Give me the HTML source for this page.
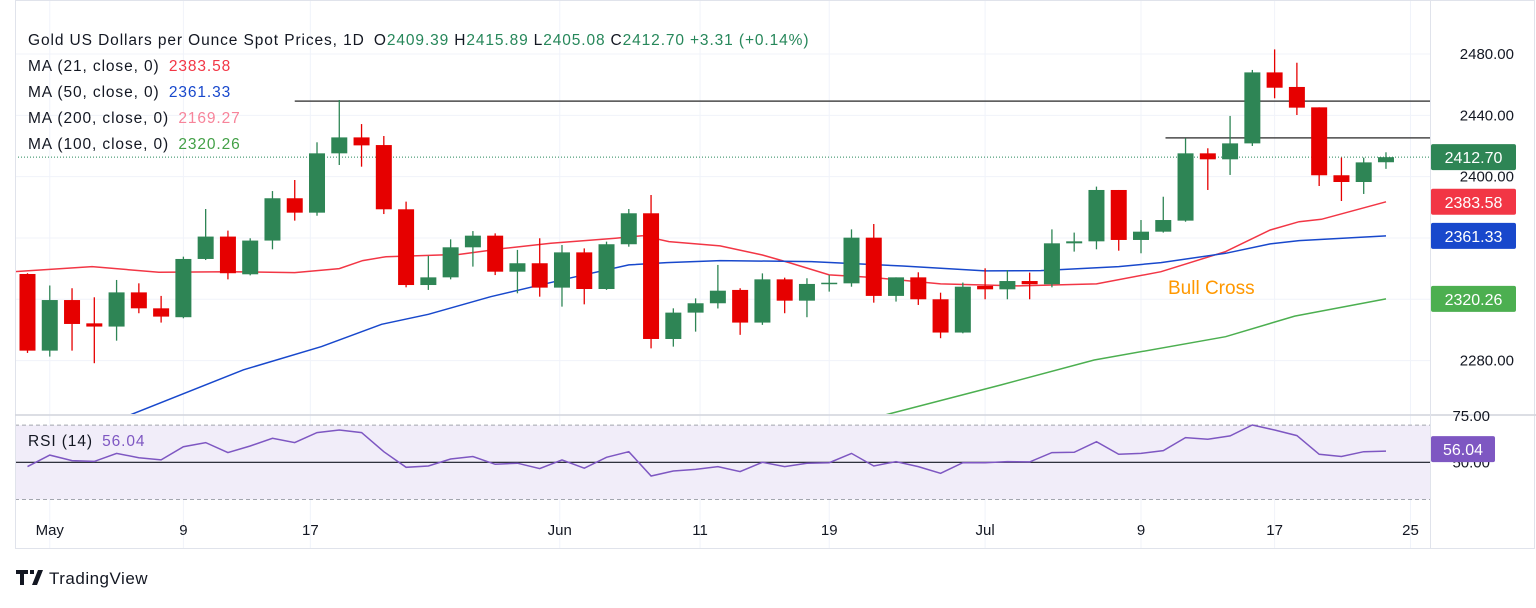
<!DOCTYPE html>
<html><head><meta charset="utf-8">
<style>
html,body{margin:0;padding:0;background:#fff;}
body{width:1536px;height:603px;overflow:hidden;font-family:"Liberation Sans",sans-serif;}
svg text{font-family:"Liberation Sans",sans-serif;}
.lg{letter-spacing:0.9px;}
</style></head>
<body>
<svg id="chart" width="1536" height="603" viewBox="0 0 1536 603" xmlns="http://www.w3.org/2000/svg">
  <defs>
    <clipPath id="mainClip"><rect x="15" y="0" width="1415" height="414"/></clipPath>
    <clipPath id="rsiClip"><rect x="15" y="416" width="1415" height="130"/></clipPath>
  </defs>
  <g id="grid"></g>
  <g id="rsiBg"></g>
  <g id="main" clip-path="url(#mainClip)"></g>
  <g id="rsi" clip-path="url(#rsiClip)"></g>
  <g id="axes"></g>
  <g id="legend">
    <text class="lg" x="28" y="45" font-size="15.5" fill="#131722">Gold US Dollars per Ounce Spot Prices, 1D <tspan dx="4">O</tspan><tspan fill="#26875a">2409.39</tspan><tspan dx="5">H</tspan><tspan fill="#26875a">2415.89</tspan><tspan dx="5">L</tspan><tspan fill="#26875a">2405.08</tspan><tspan dx="5">C</tspan><tspan fill="#26875a">2412.70</tspan><tspan dx="5" fill="#26875a">+3.31 (+0.14%)</tspan></text>
    <text class="lg" x="28" y="71" font-size="15.5" fill="#131722">MA (21, close, 0) <tspan dx="4" fill="#f23645">2383.58</tspan></text>
    <text class="lg" x="28" y="97" font-size="15.5" fill="#131722">MA (50, close, 0) <tspan dx="4" fill="#1848cc">2361.33</tspan></text>
    <text class="lg" x="28" y="123" font-size="15.5" fill="#131722">MA (200, close, 0) <tspan dx="4" fill="#f7849a">2169.27</tspan></text>
    <text class="lg" x="28" y="149" font-size="15.5" fill="#131722">MA (100, close, 0) <tspan dx="4" fill="#43a047">2320.26</tspan></text>
    <text class="lg" x="28" y="446" font-size="15.5" fill="#131722">RSI (14) <tspan dx="4" fill="#7e57c2">56.04</tspan></text>
  </g>
  <text x="1168" y="294" font-size="19" fill="#ff9800">Bull Cross</text>
  <g>
    <path d="M16 570 h12 v4 h-4 v11 h-4 v-11 h-4z M30 570 h4 v4 h-4z M38 570 h5 l-6 15 h-5z" fill="#131722"/>
    <text x="49" y="584" font-size="17" fill="#131722" style="letter-spacing:0.5px">TradingView</text>
  </g>
</svg>
<script>
// ---- data ----
const opens  = [2336.5,2286.5,2319.5,2304.3,2302.2,2324.5,2314.1,2308.3,2346.3,2360.9,2336.3,2358.3,2385.9,2376.5,2415.2,2425.6,2420.6,2378.7,2329.3,2334.3,2353.9,2361.5,2338,2343.5,2327.6,2350.6,2326.7,2355.9,2376.1,2294.1,2311.3,2317.4,2326.1,2304.8,2333,2319.1,2330.4,2330.4,2360.2,2322.2,2334.3,2320,2298.3,2328.7,2326.5,2331.9,2329.8,2356.5,2357.8,2391.3,2358.7,2364.1,2371.3,2415.2,2411.3,2421.7,2468,2458.5,2445.2,2400.9,2396.5,2409.39];
const highs  = [2337,2329,2327.2,2321.3,2332.6,2330.4,2322.2,2347.8,2378.9,2364.8,2359.8,2390.6,2397.8,2422.4,2450,2434.3,2426.5,2383.7,2348.3,2359.1,2364.5,2363,2352.2,2359.8,2355.4,2353.2,2357.6,2378.9,2388,2314.1,2320.6,2342.4,2327.2,2336.9,2334.1,2333.7,2335.8,2365.6,2369.1,2334.3,2337.6,2324.3,2330.9,2340.2,2339.1,2337.4,2365.6,2363.5,2393.5,2391.3,2371.7,2386.9,2425,2418.5,2439.6,2469.6,2483,2474.3,2445.2,2412.4,2412.4,2415.89];
const lows   = [2285,2282.6,2286.5,2278.3,2293,2310.9,2304.8,2307.6,2345.6,2333,2335.6,2352.6,2371.3,2374.5,2407.6,2406.5,2375.6,2327.8,2326.1,2333,2341.3,2335.8,2323.9,2321.7,2315.2,2316.7,2326.1,2354.3,2288,2289.1,2298.9,2314,2296.8,2303.3,2310.9,2308.3,2325,2328.2,2317.8,2318.5,2316.3,2294.6,2297.8,2320,2320,2320,2327.8,2351.1,2352.6,2351.7,2350,2363.5,2370.6,2391.3,2401.1,2420,2451.1,2440.2,2393.9,2384.1,2388.7,2405.08];
const closes = [2286.5,2319.5,2303.9,2302.2,2324.5,2314.1,2308.7,2346.3,2360.9,2337,2358.3,2385.9,2376.5,2415.2,2425.6,2420.4,2378.7,2329.3,2334.3,2353.9,2361.5,2338,2343.5,2327.6,2350.6,2326.7,2355.9,2376.1,2294.1,2311.3,2317.4,2325.6,2304.8,2333,2319.1,2330,2330.8,2360.2,2322.2,2334.3,2320,2298.3,2328.2,2326.5,2331.9,2329.8,2356.5,2357.8,2391.3,2358.7,2364.1,2371.7,2415.2,2411.3,2421.7,2468,2458,2445,2400.9,2396.5,2409.3,2412.70];
const rsiVals = [47.7,53.9,50.9,50.5,54.8,52.5,51.3,58.4,60.6,55.2,58.8,62.9,60.6,66,67.4,66,55.7,47.3,48,51.8,53.1,48.9,49.5,46.6,51.3,46.8,52.7,55.7,42.6,45.3,46.2,47.7,45,50,47.7,49.5,49.8,54.8,48,50.4,47.7,44.1,49.8,49.8,50.4,50.2,55.2,55.4,61.1,54.3,54.8,56.3,63.3,62.4,64.2,70.1,67.4,64.4,54.3,53.1,55.7,56.04];
const ma21Idx = [-0.6,2.9,5.9,9.1,12,14,15.05,16.1,19.4,21.4,23.5,26.4,27.6,28.8,31.1,33,34.2,36,37.9,41,44.5,48,50.9,53.8,55.8,57.1,58.1,61];
const ma21Val = [2338,2341.3,2337.6,2338,2337.4,2340,2345.2,2347.8,2349.3,2353.2,2356.5,2359.8,2361.5,2357.6,2354.8,2348.9,2343.9,2335.9,2334.3,2330,2328.7,2330,2338,2351.1,2365.2,2370.6,2372.2,2383.58];
const ma50Idx = [4.6,9.7,13.2,15.9,18,20.8,24.3,27,28.7,31.1,35.2,39.3,43,45.5,49,50.9,53.8,55.8,57.1,61];
const ma50Val = [2244.5,2274,2289.1,2303.7,2310.2,2321.7,2333.7,2342.4,2343.9,2345.2,2344.6,2341.7,2338.5,2338.7,2341.3,2343.9,2350,2356.1,2358.3,2361.33];
const ma100Idx = [38.5,43.7,47.9,53.8,56.9,61];
const ma100Val = [2244.5,2264.1,2280.4,2295.6,2309,2320.26];
const dateLabels = ["May","9","17","Jun","11","19","Jul","9","17","25"];
const dateIdx = [1,7,12.7,23.9,30.2,36,43,50,56,62.1];
const priceTicks = [2480,2440,2400,2280];
const rsiTicks = [75,50];
const resistLevels = [2449.3,2425.3];
const resistStartIdx = [12,51.1];

// ---- scales ----
const X0 = 27.5, DX = 22.27;
const xs = i => X0 + i*DX;
const yp = p => 54 + (2480 - p)*1.533;
const yr = r => 462.3 - (r - 50)*1.857;
const NS = "http://www.w3.org/2000/svg";
function mk(tag, attrs, parent){ const e=document.createElementNS(NS,tag); for(const k in attrs) e.setAttribute(k,attrs[k]); parent.appendChild(e); return e; }
const grid=document.getElementById('grid'), main=document.getElementById('main'), rsi=document.getElementById('rsi'), axes=document.getElementById('axes'), rsiBg=document.getElementById('rsiBg');

let fr = mk('rect',{x:15.5,y:0.5,width:1519,height:548,fill:'none',stroke:'#e0e3eb'},axes);


let sep = mk('line',{x1:15,x2:1536,y1:415,y2:415,stroke:'#d1d4dc','stroke-width':1.5},axes);


let vsep = mk('line',{x1:1430.5,x2:1430.5,y1:0,y2:548,stroke:'#e0e3eb'},axes);



priceTicks.concat([2360,2320]).forEach(p=>{
  const g=mk('line',{x1:15,x2:1430,y1:yp(p),y2:yp(p),stroke:'#f0f3fa'},grid);
  
  
});
dateIdx.forEach(i=>{
  const g=mk('line',{x1:xs(i),x2:xs(i),y1:0,y2:548,stroke:'#f0f3fa'},grid);
  
  
});

let band=mk('rect',{x:15,y:yr(70),width:1415,height:yr(30)-yr(70),fill:'#f1edf9'},rsiBg);


[70,30].forEach(v=>{
  const l=mk('line',{x1:15,x2:1430,y1:yr(v),y2:yr(v),stroke:'#a3a6af','stroke-dasharray':'4 3'},rsiBg);
  
  
});
let mid=mk('line',{x1:15,x2:1430,y1:yr(50),y2:yr(50),stroke:'#131722','stroke-width':1.2},rsiBg);



resistLevels.forEach((p,k)=>{
  const l=mk('line',{x1:xs(resistStartIdx[k]),x2:1430,y1:yp(p),y2:yp(p),stroke:'#4a4a4a','stroke-width':1.5},main);
  
  
});
const lastC = closes[closes.length-1];
let dl=mk('line',{x1:15,x2:1430,y1:yp(lastC),y2:yp(lastC),stroke:'#26875a','stroke-dasharray':'1 2'},main);



function line(idx,val,color,name){
  const pts = idx.map((i,k)=>xs(i).toFixed(1)+','+yp(val[k]).toFixed(1)).join(' ');
  const e = mk('polyline',{points:pts,fill:'none',stroke:color,'stroke-width':1.5},main);
  
  
}
line(ma21Idx,ma21Val,'#f23645','ma21-line');
line(ma50Idx,ma50Val,'#1848cc','ma50-line');
line(ma100Idx,ma100Val,'#4caf50','ma100-line');

opens.forEach((o,i)=>{
  const c=closes[i], up=c>=o, col= up?'#2e8555':'#e60000';
  const x=xs(i);
  const g=mk('g',{},main);
  
  
  mk('line',{x1:x,x2:x,y1:yp(highs[i]),y2:yp(lows[i]),stroke:col,'stroke-width':1.3},g);
  const top=yp(Math.max(o,c)), bot=yp(Math.min(o,c));
  mk('rect',{x:x-8,y:top,width:16,height:Math.max(1.5,bot-top),fill:col},g);
});

const rpts = rsiVals.map((v,i)=>xs(i).toFixed(1)+','+yr(v).toFixed(1)).join(' ');
let rl=mk('polyline',{points:rpts,fill:'none',stroke:'#7e57c2','stroke-width':1.5},rsi);



priceTicks.forEach(p=>{
  const t=mk('text',{x:1514,y:yp(p)+5,'font-size':15,fill:'#131722','text-anchor':'end'},axes);
  t.textContent=p.toFixed(2);
  
  
});
rsiTicks.forEach(v=>{
  const t=mk('text',{x:1490,y:yr(v)+5,'font-size':15,fill:'#131722','text-anchor':'end'},axes);
  t.textContent=v.toFixed(2);
  
  
});
dateLabels.forEach((d,k)=>{
  const t=mk('text',{x:xs(dateIdx[k]),y:535,'font-size':15,fill:'#131722','text-anchor':'middle'},axes);
  t.textContent=d;
  
  
});

function badge(y,txt,color,w,name){
  const g=mk('g',{},axes);
  
  
  mk('rect',{x:1431,y:y-13,width:w,height:26,rx:2,fill:color},g);
  const t=mk('text',{x:1431+w/2,y:y+6,'font-size':16,fill:'#fff','text-anchor':'middle'},g);
  t.textContent=txt;
}
badge(yp(lastC),lastC.toFixed(2),'#2e8555',85,'last-price-badge');
badge(yp(ma21Val[ma21Val.length-1]),ma21Val[ma21Val.length-1].toFixed(2),'#f23645',85,'ma21-badge');
badge(yp(ma50Val[ma50Val.length-1]),ma50Val[ma50Val.length-1].toFixed(2),'#1848cc',85,'ma50-badge');
badge(yp(ma100Val[ma100Val.length-1]),ma100Val[ma100Val.length-1].toFixed(2),'#4caf50',85,'ma100-badge');
badge(yr(rsiVals[rsiVals.length-1])-2,rsiVals[rsiVals.length-1].toFixed(2),'#7e57c2',64,'rsi-badge');
</script>
</body></html>
